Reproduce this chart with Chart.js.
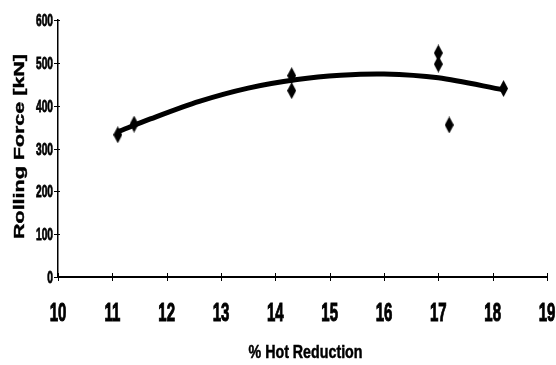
<!DOCTYPE html>
<html>
<head>
<meta charset="utf-8">
<script src="https://cdn.jsdelivr.net/npm/chart.js@4.4.0/dist/chart.umd.min.js"></script>
<style>
  html, body { margin: 0; padding: 0; background: #fff; }
  #wrap { width: 556px; height: 365px; position: relative; }
</style>
</head>
<body>
<div id="wrap"><canvas id="forceChart"></canvas></div>
<script>
// Measured points: % hot reduction vs rolling force (kN)
const reductionPct = [11.1, 11.4, 14.3, 14.3, 17.0, 17.0, 17.2, 18.2];
const rollingForce = [332, 357, 470, 435, 523, 497, 355, 440];

// Trend curve
const trendX = [11.1, 11.7, 12.6, 13.5, 14.4, 15.2, 16.0, 17.0, 18.2];
const trendY = [339, 369, 410, 441, 461, 471, 474, 465, 437];

const xTicks = [10, 11, 12, 13, 14, 15, 16, 17, 18, 19];
const yTicks = [0, 100, 200, 300, 400, 500, 600];
const xTitle = '% Hot Reduction';
const yTitle = 'Rolling Force [kN]';

// tall diamond marker like the original
function makeDiamond(w, h) {
    const c = document.createElement('canvas');
    c.width = w; c.height = h;
    const g = c.getContext('2d');
    g.fillStyle = '#000';
    g.beginPath();
    g.moveTo(w / 2, 0);
    g.lineTo(w, h / 2);
    g.lineTo(w / 2, h);
    g.lineTo(0, h / 2);
    g.closePath();
    g.fill();
    return c;
}
const diamond = makeDiamond(9, 17);

// draw text squeezed/stretched along its own direction
function stretchedText(ctx, text, x, y, font, sx, align, angle, heavy) {
    ctx.save();
    ctx.translate(x, y);
    if (angle) ctx.rotate(angle);
    ctx.scale(sx, 1);
    ctx.font = font;
    ctx.textAlign = align;
    ctx.textBaseline = 'alphabetic';
    ctx.fillText(text, 0, 0);
    if (heavy) {
        ctx.lineWidth = heavy;
        ctx.strokeText(text, 0, 0);
    }
    ctx.restore();
}

// the original uses a very condensed typeface, so labels are drawn here
const axisText = {
    id: 'axisText',
    afterDraw(chart) {
        const { ctx, scales: { x, y } } = chart;
        ctx.save();
        ctx.fillStyle = '#000';
        ctx.strokeStyle = '#000';
        ctx.lineWidth = 1;

        // tick marks crossing the axes
        xTicks.forEach(v => {
            const px = Math.round(x.getPixelForValue(v)) + 0.5;
            ctx.beginPath();
            ctx.moveTo(px, y.bottom - 4);
            ctx.lineTo(px, y.bottom + 4);
            ctx.stroke();
        });
        yTicks.forEach(v => {
            const py = Math.round(y.getPixelForValue(v)) + 0.5;
            ctx.beginPath();
            ctx.moveTo(x.left - 4, py);
            ctx.lineTo(x.left + 2, py);
            ctx.stroke();
        });

        const f = '"Liberation Sans", Arial, sans-serif';
        xTicks.forEach(v => {
            stretchedText(ctx, String(v), x.getPixelForValue(v), 321, 'bold 25px ' + f, 0.6, 'center', 0, 1);
        });
        yTicks.forEach(v => {
            stretchedText(ctx, String(v), 53, y.getPixelForValue(v) + 6, 'bold 17px ' + f, 0.6, 'right', 0, 0.8);
        });

        // x title squeezed to the original's width
        ctx.font = 'bold 18px ' + f;
        const wx = ctx.measureText(xTitle).width;
        stretchedText(ctx, xTitle, (x.left + x.right) / 2 + 3, 358, 'bold 18px ' + f, 114 / wx, 'center', 0, 0.5);

        // y title stretched to the original's length
        ctx.font = 'bold 14px ' + f;
        const wy = ctx.measureText(yTitle).width;
        stretchedText(ctx, yTitle, 24, (y.top + y.bottom) / 2 - 2, 'bold 14px ' + f, 185 / wy, 'center', -Math.PI / 2, 0.4);
        ctx.restore();
    }
};

const ctx = document.getElementById('forceChart').getContext('2d');
new Chart(ctx, {
    type: 'scatter',
    data: {
        datasets: [
            {
                label: 'Rolling force',
                data: reductionPct.map((x, i) => ({ x: x, y: rollingForce[i] })),
                pointStyle: diamond,
                pointRadius: 8,
                showLine: false
            },
            {
                label: 'Trend',
                data: trendX.map((x, i) => ({ x: x, y: trendY[i] })),
                showLine: true,
                borderColor: '#000',
                borderWidth: 5,
                pointRadius: 0,
                tension: 0.3
            }
        ]
    },
    plugins: [axisText],
    options: {
        responsive: true,
        maintainAspectRatio: false,
        animation: false,
        layout: { padding: { top: 20, right: 9, left: 0, bottom: 0 } },
        plugins: {
            legend: { display: false },
            tooltip: { enabled: false }
        },
        scales: {
            x: {
                type: 'linear',
                min: 10,
                max: 19,
                afterFit: s => { s.height = 88; s.paddingLeft = 0; s.paddingRight = 0; },
                grid: { display: false },
                border: { display: true, color: '#000', width: 2 },
                ticks: { display: false, stepSize: 1 }
            },
            y: {
                min: 0,
                max: 600,
                afterFit: s => { s.width = 58; s.paddingTop = 0; s.paddingBottom = 0; },
                grid: { display: false },
                border: { display: true, color: '#000', width: 1.5 },
                ticks: { display: false, stepSize: 100 }
            }
        }
    }
});
</script>
</body>
</html>
